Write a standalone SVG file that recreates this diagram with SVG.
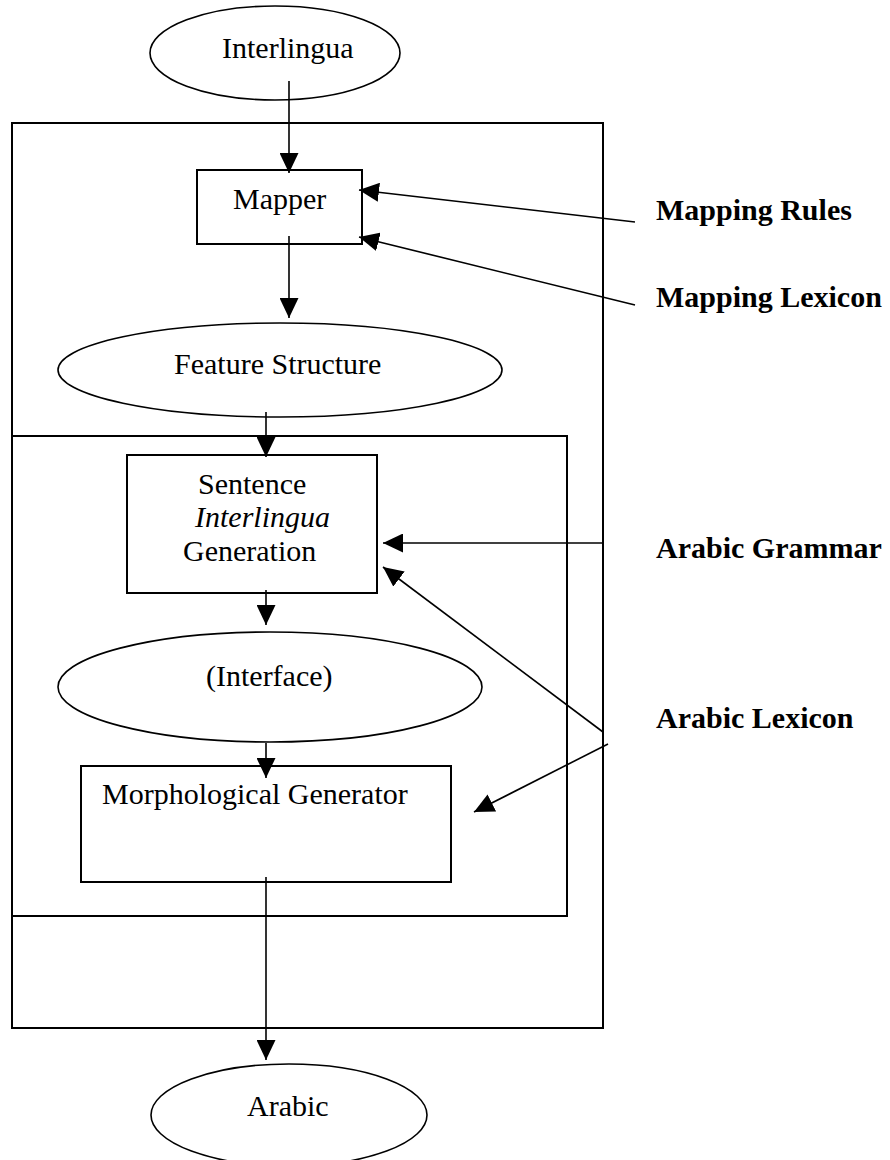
<svg xmlns="http://www.w3.org/2000/svg" width="890" height="1160" viewBox="0 0 890 1160">
<style>
.shape{fill:none;stroke:#000;stroke-width:2}
.ell{fill:none;stroke:#000;stroke-width:1.6}
.conn{fill:none;stroke:#000;stroke-width:1.6;marker-end:url(#ah)}
text{font-family:"Liberation Serif","Times New Roman",serif;font-size:30px;fill:#000}
.b{font-weight:bold}
.i{font-style:italic}
</style>
<defs>
<marker id="ah" markerUnits="userSpaceOnUse" markerWidth="20" markerHeight="19" refX="20" refY="9.5" orient="auto">
<path d="M0,0 L20,9.5 L0,19 z" fill="#000"/>
</marker>
</defs>
<rect width="890" height="1160" fill="#fff"/>
<g id="outer-box"><rect class="shape" x="12" y="123" width="591" height="905"/></g>
<g id="inner-box"><rect class="shape" x="12" y="436" width="555" height="480"/></g>
<g id="interlingua"><ellipse class="ell" cx="275" cy="53" rx="125" ry="47"/><text x="222" y="58">Interlingua</text></g>
<g id="mapper"><rect class="shape" x="197" y="170" width="165" height="74"/><text x="233" y="209">Mapper</text></g>
<g id="feature-structure"><ellipse class="ell" cx="280" cy="370" rx="222" ry="47"/><text x="174" y="374">Feature Structure</text></g>
<g id="sentence-generation"><rect class="shape" x="127" y="455" width="250" height="138"/><text x="198" y="494">Sentence</text><text class="i" x="195" y="527">Interlingua</text><text x="183" y="561">Generation</text></g>
<g id="interface"><ellipse class="ell" cx="270" cy="687" rx="212" ry="55"/><text x="206" y="686">(Interface)</text></g>
<g id="morph-generator"><rect class="shape" x="81" y="766" width="370" height="116"/><text x="102" y="804">Morphological Generator</text></g>
<g id="arabic"><ellipse class="ell" cx="289" cy="1115" rx="138" ry="51"/><text x="247" y="1116">Arabic</text></g>
<g id="mapping-rules"><text class="b" x="656" y="220">Mapping Rules</text></g>
<g id="mapping-lexicon"><text class="b" x="656" y="307">Mapping Lexicon</text></g>
<g id="arabic-grammar"><text class="b" x="656" y="558">Arabic Grammar</text></g>
<g id="arabic-lexicon"><text class="b" x="656" y="728">Arabic Lexicon</text></g>
<g id="connectors">
<line class="conn" x1="289" y1="81" x2="289" y2="173"/>
<line class="conn" x1="289" y1="236" x2="289" y2="318"/>
<line class="conn" x1="266" y1="412" x2="266" y2="457"/>
<line class="conn" x1="266" y1="590" x2="266" y2="625"/>
<line class="conn" x1="266" y1="743" x2="266" y2="778"/>
<line class="conn" x1="266" y1="877" x2="266" y2="1060"/>
<line class="conn" x1="635" y1="222" x2="359" y2="190"/>
<line class="conn" x1="635" y1="305" x2="359" y2="237"/>
<line class="conn" x1="603" y1="543" x2="383" y2="543"/>
<line class="conn" x1="603" y1="732" x2="383" y2="567"/>
<line class="conn" x1="608" y1="744" x2="474" y2="812"/>
</g>
</svg>
